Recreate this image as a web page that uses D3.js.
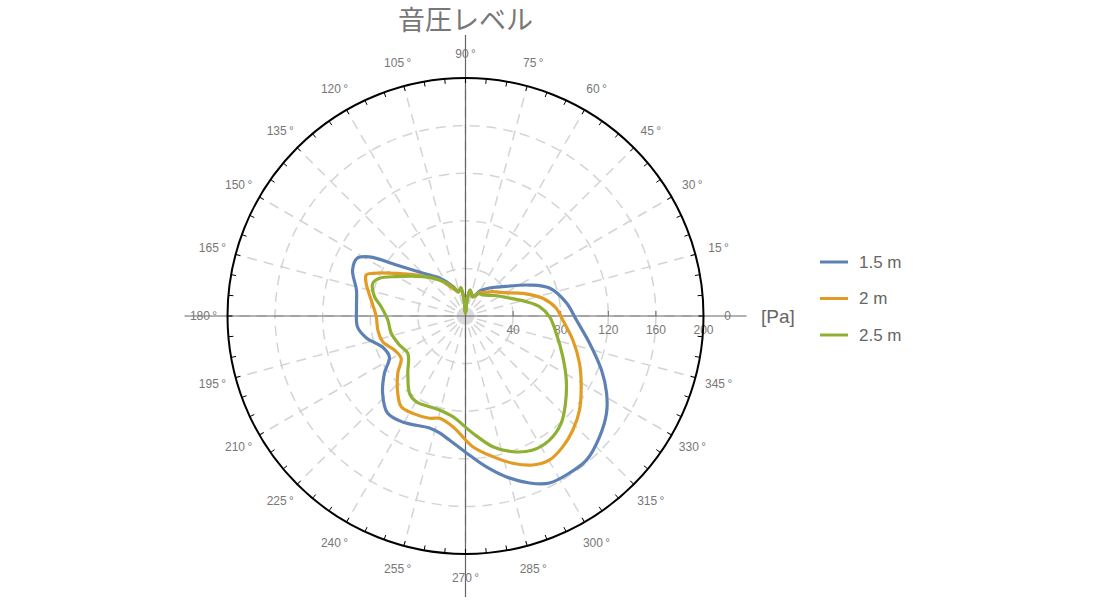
<!DOCTYPE html>
<html>
<head>
<meta charset="utf-8">
<script src="https://cdn.jsdelivr.net/npm/d3@7"></script>
<style>
  body { margin: 0; background: #fff; }
  svg { display: block; font-family: "Liberation Sans", Arial, sans-serif; }
</style>
</head>
<body>
<svg id="chart" width="1100" height="600"></svg>
<script>
// ---- data (angle in degrees, counter-clockwise from 0°; pressure in Pa) ----
const title = "音圧レベル";
const seriesNames = ["1.5 m", "2 m", "2.5 m"];
const seriesColors = ["#5E81B5", "#E19C24", "#8FB032"];

const angles15 = [7.3, 18.4, 25.8, 40, 49.4, 59, 69.5, 80, 85, 89, 92, 95, 99.5, 106, 113, 124.4, 135, 143.5, 148.4, 151.8, 157.8, 166.6, 175.3, 185.8, 192.5, 200.5, 208.3, 215.1, 222.9, 231.2, 239.3, 252.2, 257.5, 262.6, 270.4, 277.9, 284.3, 291.0, 296.7, 303.5, 310.0, 317.9, 325.5, 331.4, 338.3, 347.7, 357.9];
const values15 = [85.6, 74.4, 59.8, 38, 31.0, 25, 18, 22, 12, 3, 3, 14, 24, 21, 27, 38.7, 51.1, 72.1, 94.7, 103.0, 102.5, 94.2, 91.9, 91.2, 85.2, 74.5, 72.6, 83.2, 95.1, 104.6, 103.6, 98.9, 100.7, 105.1, 115.1, 128.1, 139.6, 150.3, 157.1, 158.2, 158.1, 151.7, 143.8, 135.0, 123.0, 106.6, 93.3];

const angles20 = [4.9, 12.9, 21.6, 31.7, 41.7, 52, 59, 69.5, 80, 85, 89, 92, 95, 99.5, 106, 114.6, 125.8, 136.9, 148.4, 155.3, 157.6, 161.8, 170.4, 180.4, 189.1, 197.3, 205.6, 213.3, 220.2, 228.8, 234.7, 241.6, 250.6, 255.7, 263.5, 273.2, 281.0, 287.8, 294.3, 300.3, 306.7, 313.3, 320.5, 328.6, 337.5, 347.4, 357.6];
const values20 = [76.5, 66.6, 51.8, 37.3, 30.7, 25, 23, 17.5, 22, 12, 3, 3, 14, 24, 21, 25.6, 37.3, 49.2, 68.4, 85.8, 90.3, 87.9, 80.4, 75.0, 74.6, 72.8, 66.2, 64.7, 74.5, 86.4, 93.4, 93.0, 91.1, 88.7, 93.6, 110.0, 120.4, 130.0, 137.4, 140.1, 136.9, 131.6, 124.2, 113.9, 103.7, 92.4, 81.8];

const angles25 = [7.2, 13.3, 23.5, 35, 50, 59, 69.5, 80, 85, 89, 92, 95, 99.5, 106, 113.4, 125.8, 137.4, 150.4, 156.3, 160.6, 168.0, 173.7, 182.9, 193.1, 203.7, 212.9, 224.8, 234.1, 240.1, 248.4, 254.5, 262.8, 273.6, 281.8, 289.2, 296.7, 304.1, 311.7, 318.9, 327.6, 337.3, 349.2, 359.5];
const values25 = [62.7, 52.4, 38.5, 30, 23, 22, 17, 22, 12, 3, 3, 14, 24, 21, 26.8, 37.3, 48.8, 67.0, 78.9, 82.6, 78.2, 71.3, 65.4, 64.1, 60.6, 57.7, 68.3, 80.2, 83.1, 82.0, 82.0, 85.3, 98.7, 112.2, 120.8, 126.0, 125.9, 120.8, 111.5, 100.3, 88.6, 77.6, 70.6];

const radialTicks = [40, 80, 120, 160, 200];
const gridCircles = [40, 80, 120, 160];
const angleLabels = d3.range(0, 360, 15);
const minorAngles = d3.range(0, 360, 5);

// ---- layout ----
const svg = d3.select("#chart");
const cx = 465.5, cy = 316, R = 238;
const r = d3.scaleLinear().domain([0, 200]).range([0, R]);
const rad = d => d * Math.PI / 180;
const px = (deg, rr) => rr * Math.cos(rad(deg));
const py = (deg, rr) => -rr * Math.sin(rad(deg));

const g = svg.append("g").attr("transform", `translate(${cx},${cy})`);

// grid circles
g.selectAll("circle.grid").data(gridCircles).join("circle")
  .attr("r", d => r(d)).attr("fill", "none")
  .attr("stroke", "#d4d4d4").attr("stroke-width", 1.5).attr("stroke-dasharray", "10,7");

// radial grid lines
g.selectAll("line.spoke").data(angleLabels).join("line")
  .attr("x1", d => px(d, 12)).attr("y1", d => py(d, 12))
  .attr("x2", d => px(d, R)).attr("y2", d => py(d, R))
  .attr("stroke", "#d4d4d4").attr("stroke-width", 1.5).attr("stroke-dasharray", "10,7");

// centre disc
g.append("circle").attr("r", 9).attr("fill", "#dcdcdc");

// axes
const AX = 281;
g.append("line").attr("x1", -AX).attr("x2", AX).attr("y1", 0).attr("y2", 0)
  .attr("stroke", "#666").attr("stroke-width", 1.2);
g.append("line").attr("x1", 0).attr("x2", 0).attr("y1", -AX).attr("y2", AX)
  .attr("stroke", "#666").attr("stroke-width", 1.2);

// radial axis ticks and labels
g.selectAll("line.rtick").data(radialTicks).join("line")
  .attr("x1", d => r(d)).attr("x2", d => r(d)).attr("y1", 0).attr("y2", -5)
  .attr("stroke", "#666").attr("stroke-width", 1);
g.selectAll("text.rlab").data(radialTicks).join("text")
  .attr("x", d => r(d)).attr("y", 18).attr("text-anchor", "middle")
  .attr("font-size", 12).attr("fill", "#777").text(d => d);

// outer circle
g.append("circle").attr("r", R).attr("fill", "none").attr("stroke", "#000").attr("stroke-width", 2);
g.selectAll("line.otick").data(minorAngles).join("line")
  .attr("x1", d => px(d, R)).attr("y1", d => py(d, R))
  .attr("x2", d => px(d, R - 5)).attr("y2", d => py(d, R - 5))
  .attr("stroke", "#000").attr("stroke-width", 1);

// angle labels
g.selectAll("text.alab").data(angleLabels).join("text")
  .attr("x", d => px(d, 262)).attr("y", d => py(d, 262))
  .attr("text-anchor", "middle").attr("dominant-baseline", "central")
  .attr("font-size", 12).attr("fill", "#777")
  .text(d => d === 0 ? "0" : d + "\u2009°");

// curves
const series = [
  { name: seriesNames[0], color: seriesColors[0], angles: angles15, values: values15 },
  { name: seriesNames[1], color: seriesColors[1], angles: angles20, values: values20 },
  { name: seriesNames[2], color: seriesColors[2], angles: angles25, values: values25 }
];
const line = d3.lineRadial()
  .angle(d => Math.PI / 2 - rad(d[0]))
  .radius(d => r(d[1]))
  .curve(d3.curveCatmullRomClosed.alpha(0.5));
g.selectAll("path.curve").data(series).join("path")
  .attr("d", s => line(s.angles.map((a, i) => [a, s.values[i]])))
  .attr("fill", "none").attr("stroke", s => s.color).attr("stroke-width", 3.2)
  .attr("stroke-linejoin", "round");

// unit label
svg.append("text").attr("x", 761).attr("y", cy).attr("dominant-baseline", "central")
  .attr("font-size", 19).attr("fill", "#666").text("[Pa]");

// title
svg.append("text").attr("x", cx).attr("y", 30).attr("text-anchor", "middle")
  .attr("font-family", "'Noto Sans CJK JP', sans-serif")
  .attr("font-size", 27).attr("fill", "#777").text(title);

// legend
const lg = svg.append("g").attr("transform", "translate(820,262)");
const items = lg.selectAll("g").data(series).join("g")
  .attr("transform", (d, i) => `translate(0,${i * 36.5})`);
items.append("line").attr("x1", 0).attr("x2", 28).attr("y1", 0).attr("y2", 0)
  .attr("stroke", d => d.color).attr("stroke-width", 3);
items.append("text").attr("x", 39).attr("y", 0).attr("dominant-baseline", "central")
  .attr("font-size", 17).attr("fill", "#666").text(d => d.name);
</script>
</body>
</html>
